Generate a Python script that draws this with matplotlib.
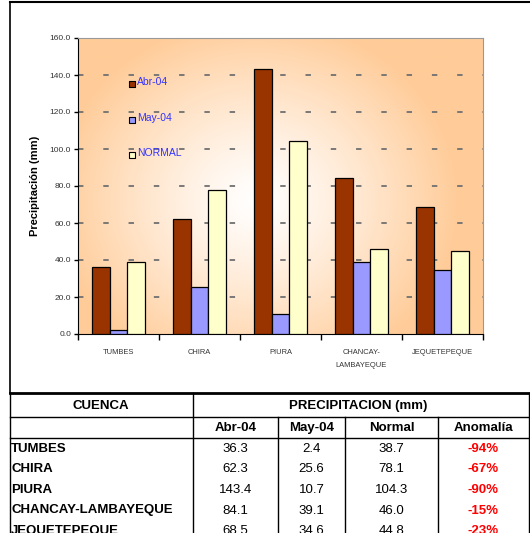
import matplotlib
matplotlib.use("Agg")
from matplotlib import pyplot as plt
from matplotlib.lines import Line2D
import numpy as np

# datos
cuencas = ["TUMBES", "CHIRA", "PIURA", "CHANCAY-LAMBAYEQUE", "JEQUETEPEQUE"]
etiquetas_x = ["TUMBES", "CHIRA", "PIURA", "CHANCAY-\n\nLAMBAYEQUE", "JEQUETEPEQUE"]
abr_04 = [36.3, 62.3, 143.4, 84.1, 68.5]
may_04 = [2.4, 25.6, 10.7, 39.1, 34.6]
normal = [38.7, 78.1, 104.3, 46.0, 44.8]
anomalia = ["-94%", "-67%", "-90%", "-15%", "-23%"]
series = ["Abr-04", "May-04", "NORMAL"]
colores = ["#993300", "#9999FF", "#FFFFCC"]

W, H = 530, 533
plt.rcParams['font.family'] = ['Liberation Sans', 'DejaVu Sans']
fig = plt.figure(figsize=(W / 100, H / 100), dpi=100)


def fx(px):
    return px / W


def fy(py):
    return 1 - py / H


# marco del grafico
fig.add_artist(Line2D([fx(10), fx(10)], [fy(2), fy(393)], color="black", lw=1.2))
fig.add_artist(Line2D([fx(10), fx(530)], [fy(2), fy(2)], color="black", lw=1.5))

ax = fig.add_axes([fx(78), fy(334), fx(483) - fx(78), fy(38) - fy(334)])

# fondo degradado
gx, gy = np.meshgrid(np.linspace(0, 1, 300), np.linspace(0, 1, 300))
d = np.sqrt(((gx - 0.44) / 0.5) ** 2 + ((gy - 0.45) / 0.62) ** 2)
t = np.clip(d, 0, 1) ** 1.2
naranja = np.array([1.0, 0.80, 0.60])
img = (1 - t[..., None]) * np.array([1.0, 1.0, 1.0]) + t[..., None] * naranja
ax.imshow(img, extent=[-0.5, 4.5, 0, 160], origin="lower", aspect="auto", zorder=0)

x = np.arange(len(cuencas))
ancho = 0.22
for i, (vals, c) in enumerate(zip([abr_04, may_04, normal], colores)):
    ax.bar(x + (i - 1) * ancho, vals, ancho, color=c, edgecolor="black", lw=0.9, zorder=3)

ax.set_xlim(-0.5, 4.5)
ax.set_ylim(0, 160)
ax.set_yticks(range(0, 161, 20))
ax.set_yticklabels(["%.1f" % v for v in range(0, 161, 20)], fontsize=6, color="#333333")
for v in range(20, 161, 20):
    ax.axhline(v, color="#707070", lw=1.3, ls=(0, (3, 11)), zorder=1)

ax.set_xticks(np.arange(-0.5, 4.6, 1))
ax.set_xticklabels([])
ax.tick_params(axis="x", direction="out", length=4, width=1)
ax.tick_params(axis="y", direction="out", length=3, width=1, pad=2)
for i, lab in enumerate(etiquetas_x):
    ax.text(i, -8, lab, ha="center", va="top", fontsize=5.4, color="#333333", linespacing=0.9)

for s in ["top", "right"]:
    ax.spines[s].set_color("#999999")
ax.spines["left"].set_color("black")
ax.spines["bottom"].set_color("black")

ax.set_ylabel("Precipitación (mm)", fontsize=8, fontweight="bold", labelpad=7)

# leyenda
for yy, nombre, c in zip([0.845, 0.723, 0.605], series, colores):
    ax.scatter([0.133], [yy], marker="s", s=22, color=c, edgecolor="black", lw=0.8,
               transform=ax.transAxes, zorder=5)
    ax.text(0.145, yy + 0.008, nombre, transform=ax.transAxes, fontsize=7.5,
            color="#3333FF", va="center", zorder=5)

# tabla
cols = [10, 193, 278, 345, 438, 529]
fig.add_artist(Line2D([fx(10), fx(530)], [fy(393), fy(393)], color="black", lw=2))
fig.add_artist(Line2D([fx(10), fx(529)], [fy(417), fy(417)], color="black", lw=1))
fig.add_artist(Line2D([fx(10), fx(529)], [fy(438), fy(438)], color="black", lw=1))
for c in [10, 193, 529]:
    fig.add_artist(Line2D([fx(c), fx(c)], [fy(393), fy(533)], color="black", lw=1))
for c in [278, 345, 438]:
    fig.add_artist(Line2D([fx(c), fx(c)], [fy(417), fy(533)], color="black", lw=1))

fs = 9.5
fig.text(fx(101), fy(406), "CUENCA", ha="center", va="center", fontsize=fs, fontweight="bold")
fig.text(fx(358), fy(406), "PRECIPITACION (mm)", ha="center", va="center", fontsize=fs,
         fontweight="bold")
for j, h in enumerate(["Abr-04", "May-04", "Normal", "Anomalía"]):
    fig.text(fx((cols[j + 1] + cols[j + 2]) / 2), fy(428), h, ha="center", va="center",
             fontsize=fs, fontweight="bold")

filas_y = [449, 469.5, 490, 510.5, 531]
for k in range(len(cuencas)):
    yy = fy(filas_y[k])
    fig.text(fx(11), yy, cuencas[k], ha="left", va="center", fontsize=fs, fontweight="bold")
    for j, v in enumerate([abr_04[k], may_04[k], normal[k]]):
        fig.text(fx((cols[j + 1] + cols[j + 2]) / 2), yy, "%.1f" % v, ha="center",
                 va="center", fontsize=fs)
    fig.text(fx((cols[4] + cols[5]) / 2), yy, anomalia[k], ha="center", va="center",
             fontsize=fs, fontweight="bold", color="#FF0000")

fig.savefig("out.png", dpi=100)
